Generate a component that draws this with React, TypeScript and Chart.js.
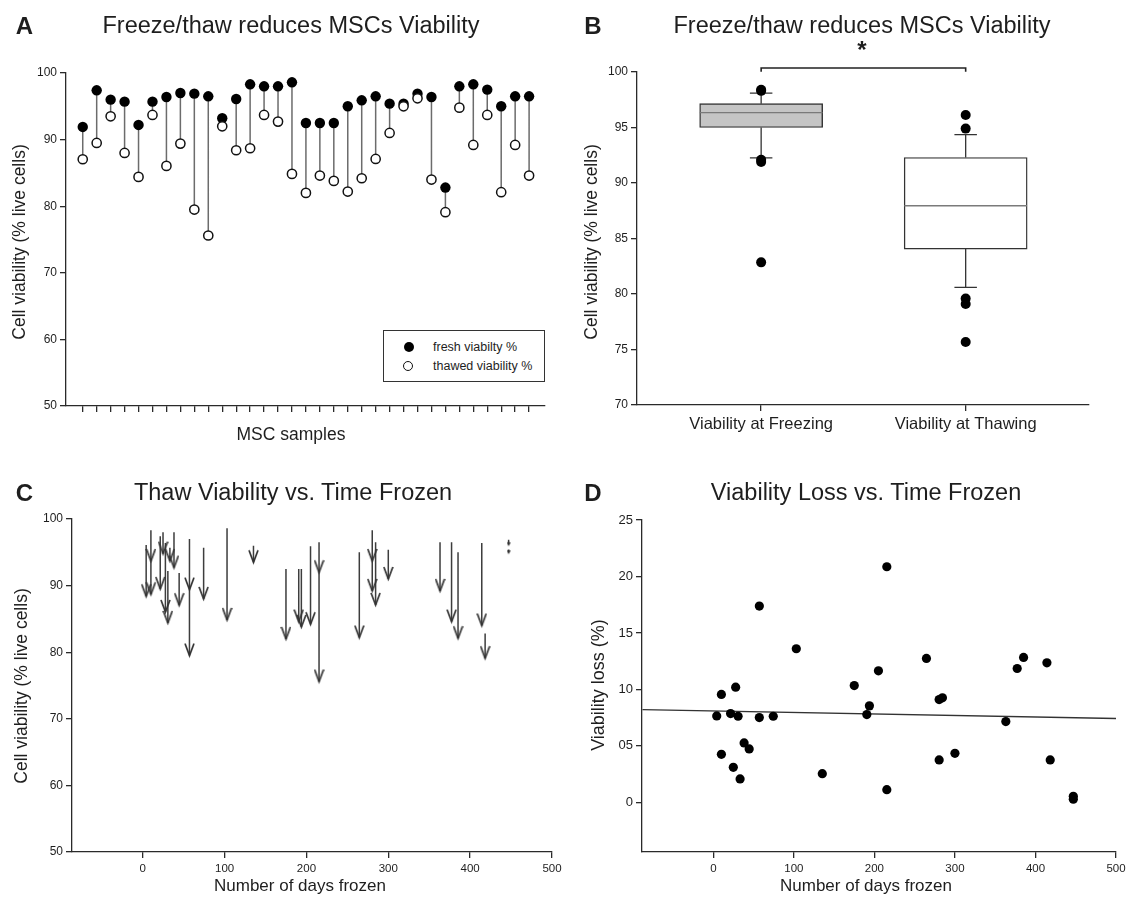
import React, { useEffect, useRef } from 'react';
import { Chart, registerables } from 'chart.js';

Chart.register(...registerables);

const FONT = '"Liberation Sans", Arial, Helvetica, sans-serif';
const INK = '#1e1e1e';
const AXIS = '#2a2a2a';

// ---------- Data ----------
const samples = [1, 2, 3, 4, 5, 6, 7, 8, 9, 10, 11, 12, 13, 14, 15, 16, 17, 18, 19, 20, 21, 22, 23, 24, 25, 26, 27, 28, 29, 30, 31, 32, 33];
const freshViability = [91.9, 97.4, 96.0, 95.7, 92.2, 95.7, 96.4, 97.0, 96.9, 96.5, 93.2, 96.1, 98.3, 98.0, 98.0, 98.6, 92.5, 92.5, 92.5, 95.0, 95.9, 96.5, 95.4, 95.4, 96.9, 96.4, 82.8, 98.0, 98.3, 97.5, 95.0, 96.5, 96.5];
const thawedViability = [87.05, 89.5, 93.5, 88.0, 84.4, 93.7, 86.05, 89.4, 79.5, 75.6, 92.0, 88.4, 88.7, 93.7, 92.7, 84.85, 82.0, 84.6, 83.8, 82.2, 84.2, 87.1, 91.0, 95.0, 96.2, 84.0, 79.1, 94.8, 89.2, 93.7, 82.1, 89.2, 84.6];
const daysFrozen = [44.5, 21.4, 135.3, 74.4, 30.7, 33.2, 27.7, 57.1, 57.1, 215.4, 215.4, 4.2, 10, 10, 38.2, 103, 175, 190.6, 193.8, 264.6, 205, 284.5, 300, 447, 447, 414.2, 418.3, 24.8, 280.4, 280.4, 385.2, 363.2, 377.3];
const viabilityLoss = [4.73, 7.86, 2.54, 7.62, 7.62, 2.07, 10.2, 7.5, 17.38, 20.86, 1.12, 7.65, 9.55, 4.25, 5.26, 13.6, 10.34, 7.77, 8.54, 12.74, 11.64, 9.25, 4.34, 0.27, 0.53, 12.35, 3.75, 3.1, 9.1, 3.75, 12.83, 7.15, 11.85];
const regressionDays = [-88, 500];
const regressionLoss = [8.21, 7.42];

const boxCategories = ['Viability at Freezing', 'Viability at Thawing'];
const boxPositions = [0, 1];
const boxQ1 = [95.0, 84.05];
const boxMedian = [96.34, 87.95];
const boxQ3 = [97.15, 92.3];
const whiskerLow = [92.26, 80.59];
const whiskerHigh = [98.1, 94.36];
const freezingOutliers = [98.4, 98.3, 92.1, 91.9, 82.85];
const thawingOutliers = [96.13, 94.9, 79.6, 79.1, 75.67];
const bracketLevel = 100.36;

const ticksA = [50, 60, 70, 80, 90, 100];
const ticksB = [70, 75, 80, 85, 90, 95, 100];
const ticksC = [50, 60, 70, 80, 90, 100];
const ticksDays = [0, 100, 200, 300, 400, 500];
const ticksD = [0, 5, 10, 15, 20, 25];
const ticksDLabels = ['0', '05', '10', '15', '20', '25'];

// ---------- helpers ----------
function segments(xs: number[], a: number[], b: number[]) {
  const out: any[] = [];
  xs.forEach((x, i) => {
    out.push({ x, y: a[i] }, { x, y: b[i] }, { x, y: null });
  });
  return out;
}

function axis(o: {
  min: number; max: number; size: number; fixed: number; horizontal: boolean;
  ticks: number[]; label?: (v: number) => string; tickLen?: number; pad?: number;
}) {
  const t: any = {
    color: INK,
    font: { family: FONT, size: o.size },
    padding: o.pad ?? 3,
    autoSkip: false,
    maxRotation: 0,
    minRotation: 0,
  };
  if (o.label) t.callback = (v: any) => o.label!(Number(v));
  return {
    type: 'linear',
    min: o.min,
    max: o.max,
    offset: false,
    border: { display: true, color: AXIS, width: 1.3 },
    grid: { display: true, offset: false, drawOnChartArea: false, drawTicks: true, tickLength: o.tickLen ?? 6, color: AXIS, lineWidth: 1.3 },
    ticks: t,
    afterBuildTicks: (s: any) => { s.ticks = o.ticks.map((v) => ({ value: v })); },
    afterFit: o.horizontal
      ? (s: any) => { s.height = o.fixed; s.paddingLeft = 0; s.paddingRight = 0; }
      : (s: any) => { s.width = o.fixed; s.paddingTop = 0; s.paddingBottom = 0; },
  };
}

const baseOptions = (padding: any, scales: any) => ({
  responsive: false,
  animation: false,
  events: [],
  layout: { padding },
  plugins: { legend: { display: false }, tooltip: { enabled: false }, title: { display: false } },
  scales,
});

function makeArrowHead(w: number, h: number): HTMLCanvasElement {
  const c = document.createElement('canvas');
  c.width = w + 2;
  c.height = h * 2 + 2;
  const g = c.getContext('2d')!;
  g.strokeStyle = '#333';
  g.lineWidth = 1.7;
  g.beginPath();
  g.moveTo(1, 1);
  g.lineTo(c.width / 2, c.height / 2);
  g.lineTo(c.width - 1, 1);
  g.stroke();
  return c;
}

// ---------- configs ----------
function configA(): any {
  return {
    type: 'scatter',
    data: {
      datasets: [
        {
          data: samples.map((s, i) => ({ x: s, y: thawedViability[i] })),
          pointRadius: 4.6, pointBackgroundColor: '#fff', pointBorderColor: '#111', pointBorderWidth: 1.5,
        },
        {
          data: samples.map((s, i) => ({ x: s, y: freshViability[i] })),
          pointRadius: 5.2, pointBackgroundColor: '#000', pointBorderColor: '#000', pointBorderWidth: 0,
        },
        {
          data: segments(samples, freshViability, thawedViability),
          showLine: true, spanGaps: false, borderColor: '#6c6c6c', borderWidth: 1.5, pointRadius: 0,
        },
      ],
    },
    options: baseOptions({ left: 0, top: 73, right: 22, bottom: 0 }, {
      x: axis({ min: -0.2, max: 34.14, size: 12, fixed: 44, horizontal: true, ticks: samples, label: () => '', tickLen: 6 }),
      y: axis({ min: 50, max: 100, size: 12, fixed: 66, horizontal: false, ticks: ticksA }),
    }),
  };
}

function configB(): any {
  const outliers = [
    ...freezingOutliers.map((v) => ({ x: boxPositions[0], y: v })),
    ...thawingOutliers.map((v) => ({ x: boxPositions[1], y: v })),
  ];
  const medians: any[] = [];
  const whiskers: any[] = [];
  boxPositions.forEach((p, i) => {
    medians.push({ x: p - 0.3, y: boxMedian[i] }, { x: p + 0.3, y: boxMedian[i] }, { x: p, y: null });
    whiskers.push({ x: p, y: boxQ3[i] }, { x: p, y: whiskerHigh[i] }, { x: p, y: null });
    whiskers.push({ x: p - 0.055, y: whiskerHigh[i] }, { x: p + 0.055, y: whiskerHigh[i] }, { x: p, y: null });
    whiskers.push({ x: p, y: boxQ1[i] }, { x: p, y: whiskerLow[i] }, { x: p, y: null });
    whiskers.push({ x: p - 0.055, y: whiskerLow[i] }, { x: p + 0.055, y: whiskerLow[i] }, { x: p, y: null });
  });
  const bracket = [
    { x: boxPositions[0], y: 100.02 },
    { x: boxPositions[0], y: bracketLevel },
    { x: boxPositions[1], y: bracketLevel },
    { x: boxPositions[1], y: 100.02 },
  ];
  return {
    type: 'bar',
    data: {
      datasets: [
        { type: 'scatter', data: outliers, pointRadius: 5, pointBackgroundColor: '#000', pointBorderWidth: 0 },
        { type: 'scatter', data: medians, showLine: true, borderColor: '#7a7a7a', borderWidth: 1.4, pointRadius: 0 },
        {
          type: 'bar',
          data: boxPositions.map((p, i) => ({ x: p, y: [boxQ1[i], boxQ3[i]] })),
          backgroundColor: ['#c5c5c5', '#ffffff'], borderColor: '#333', borderWidth: 1.4, borderSkipped: false,
          barThickness: 123,
        },
        { type: 'scatter', data: whiskers, showLine: true, borderColor: '#333', borderWidth: 1.3, pointRadius: 0 },
        { type: 'scatter', data: bracket, showLine: true, clip: false, borderColor: '#222', borderWidth: 1.6, pointRadius: 0 },
      ],
    },
    options: baseOptions({ left: 0, top: 72, right: 45, bottom: 0 }, {
      x: axis({ min: -0.607, max: 1.603, size: 16.5, fixed: 45, horizontal: true, ticks: boxPositions, label: (v) => boxCategories[v] ?? '', tickLen: 6, pad: 4 }),
      y: axis({ min: 70, max: 100, size: 12, fixed: 70, horizontal: false, ticks: ticksB }),
    }),
  };
}

function configC(arrow: HTMLCanvasElement, tiny: HTMLCanvasElement): any {
  return {
    type: 'scatter',
    data: {
      datasets: [
        {
          data: daysFrozen.map((d, i) => ({ x: d, y: thawedViability[i] })),
          pointStyle: (ctx: any) => {
            const i = ctx.dataIndex;
            return freshViability[i] - thawedViability[i] < 1 ? tiny : arrow;
          },
          pointRadius: 6,
        },
        {
          data: segments(daysFrozen, freshViability, thawedViability),
          showLine: true, spanGaps: false, borderColor: '#3d3d3d', borderWidth: 1.5, pointRadius: 0,
        },
      ],
    },
    options: baseOptions({ left: 0, top: 69, right: 15, bottom: 0 }, {
      x: axis({ min: -86.4, max: 500, size: 11.5, fixed: 47, horizontal: true, ticks: ticksDays, pad: 4 }),
      y: axis({ min: 50, max: 100, size: 12, fixed: 72, horizontal: false, ticks: ticksC }),
    }),
  };
}

function configD(): any {
  return {
    type: 'scatter',
    data: {
      datasets: [
        {
          data: daysFrozen.map((d, i) => ({ x: d, y: viabilityLoss[i] })),
          pointRadius: 4.6, pointBackgroundColor: '#000', pointBorderWidth: 0,
        },
        {
          data: regressionDays.map((d, i) => ({ x: d, y: regressionLoss[i] })),
          showLine: true, borderColor: '#333', borderWidth: 1.3, pointRadius: 0,
        },
      ],
    },
    options: baseOptions({ left: 0, top: 70, right: 18, bottom: 0 }, {
      x: axis({ min: -88.6, max: 500, size: 11.5, fixed: 47, horizontal: true, ticks: ticksDays, pad: 4 }),
      y: axis({ min: -4.4, max: 25, size: 13, fixed: 75, horizontal: false, ticks: ticksD, label: (v) => ticksDLabels[ticksD.indexOf(v)] ?? '' }),
    }),
  };
}

// ---------- components ----------
function Panel({ left, top, width, height, make }: { left: number; top: number; width: number; height: number; make: () => any }) {
  const ref = useRef<HTMLCanvasElement>(null);
  useEffect(() => {
    const chart = new Chart(ref.current!, make());
    return () => chart.destroy();
  }, []);
  return (
    <canvas
      ref={ref}
      width={width}
      height={height}
      style={{ position: 'absolute', left, top, width, height }}
    />
  );
}

function Txt({ x, y, size, children, bold, rotate }: { x: number; y: number; size: number; children: any; bold?: boolean; rotate?: boolean }) {
  return (
    <div
      style={{
        position: 'absolute', left: x, top: y, fontFamily: FONT, fontSize: size, lineHeight: 1,
        fontWeight: bold ? 700 : 400, color: INK, whiteSpace: 'nowrap',
        transform: `translate(-50%, -50%)${rotate ? ' rotate(-90deg)' : ''}`,
      }}
    >
      {children}
    </div>
  );
}

function LegendA() {
  const dot = (filled: boolean, cx: number, cy: number) => (
    <div style={{
      position: 'absolute', left: cx - 5, top: cy - 5, width: 10, height: 10, boxSizing: 'border-box',
      borderRadius: '50%', background: filled ? '#000' : '#fff', border: filled ? 'none' : '1.5px solid #111',
    }} />
  );
  const label = (text: string, cy: number) => (
    <div style={{ position: 'absolute', left: 49, top: cy, transform: 'translateY(-50%)', fontFamily: FONT, fontSize: 12.5, lineHeight: 1, color: INK, whiteSpace: 'nowrap' }}>{text}</div>
  );
  return (
    <div style={{ position: 'absolute', left: 383, top: 330, width: 162, height: 52, boxSizing: 'border-box', border: '1.3px solid #333', background: '#fff' }}>
      {dot(true, 25, 16)}
      {dot(false, 24, 35)}
      {label('fresh viabilty %', 16)}
      {label('thawed viability %', 35)}
    </div>
  );
}

export default function App() {
  const arrowRef = useRef<HTMLCanvasElement[] | null>(null);
  const getArrows = () => {
    if (!arrowRef.current) arrowRef.current = [makeArrowHead(9, 12), makeArrowHead(2, 2)];
    return arrowRef.current;
  };
  return (
    <div style={{ position: 'absolute', left: 0, top: 0, width: 1134, height: 899, background: '#fff', overflow: 'hidden' }}>
      <Panel left={0} top={0} width={567} height={450} make={configA} />
      <Panel left={567} top={0} width={567} height={450} make={configB} />
      <Panel left={0} top={450} width={567} height={449} make={() => configC(getArrows()[0], getArrows()[1])} />
      <Panel left={567} top={450} width={567} height={449} make={configD} />

      <Txt x={24.5} y={25.5} size={24} bold>A</Txt>
      <Txt x={291} y={25.5} size={23.5}>Freeze/thaw reduces MSCs Viability</Txt>
      <Txt x={593} y={25.5} size={24} bold>B</Txt>
      <Txt x={862} y={25.5} size={23.5}>Freeze/thaw reduces MSCs Viability</Txt>
      <Txt x={24.5} y={492.5} size={24} bold>C</Txt>
      <Txt x={293} y={492.5} size={23.5}>Thaw Viability vs. Time Frozen</Txt>
      <Txt x={593} y={492.5} size={24} bold>D</Txt>
      <Txt x={866} y={492.5} size={23.5}>Viability Loss vs. Time Frozen</Txt>

      <Txt x={20} y={242} size={17.5} rotate>Cell  viability (% live cells)</Txt>
      <Txt x={291} y={435} size={17.5}>MSC samples</Txt>
      <Txt x={592} y={241.5} size={17.5} rotate>Cell  viability (% live cells)</Txt>
      <Txt x={862} y={50} size={24} bold>*</Txt>

      <Txt x={22} y={686} size={17.5} rotate>Cell  viability (% live cells)</Txt>
      <Txt x={300} y={885} size={17}>Number of days frozen</Txt>
      <Txt x={597.5} y={685} size={18} rotate>Viability loss (%)</Txt>
      <Txt x={866} y={885} size={17}>Number of days frozen</Txt>

      <LegendA />
    </div>
  );
}
